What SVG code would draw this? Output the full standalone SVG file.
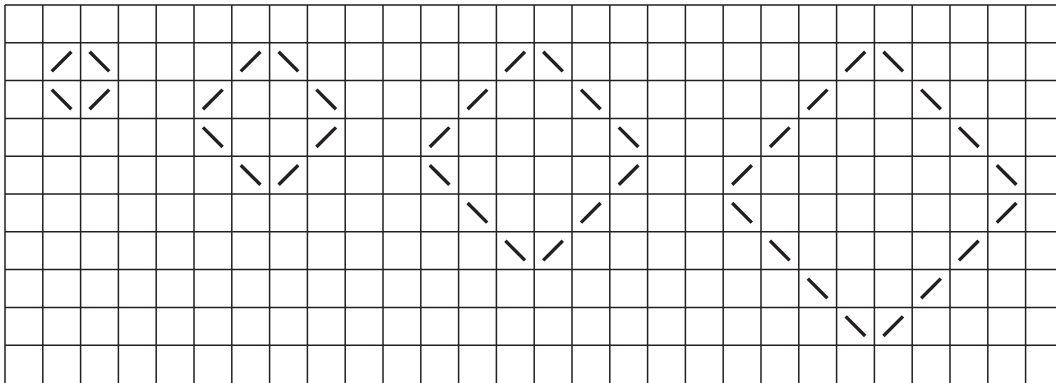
<svg xmlns="http://www.w3.org/2000/svg" xmlns:xlink="http://www.w3.org/1999/xlink" width="1056" height="383" viewBox="0 0 1056 383">
<style>
.grid{stroke:#231f20;stroke-width:1.5;fill:none}
.mark{stroke:#231f20;stroke-width:3.4;fill:none}
</style>
<defs>
<path id="f" class="mark" d="M9 28.6L28.6 9"/>
<path id="b" class="mark" d="M9 9L28.6 28.6"/>
</defs>
<rect width="1056" height="383" fill="#fff"/>
<g id="grid">
<path class="grid" d="M5 5V383M42.8 5V383M80.6 5V383M118.4 5V383M156.2 5V383M194 5V383M231.8 5V383M269.6 5V383M307.4 5V383M345.2 5V383M383 5V383M420.8 5V383M458.6 5V383M496.4 5V383M534.2 5V383M572 5V383M609.8 5V383M647.6 5V383M685.4 5V383M723.2 5V383M761 5V383M798.8 5V383M836.6 5V383M874.4 5V383M912.2 5V383M950 5V383M987.8 5V383M1025.6 5V383"/>
<path class="grid" d="M5 5H1056M5 42.8H1056M5 80.6H1056M5 118.4H1056M5 156.2H1056M5 194H1056M5 231.8H1056M5 269.6H1056M5 307.4H1056M5 345.2H1056"/>
</g>
<g id="diamond1">
<use xlink:href="#f" x="42.8" y="42.8"/><use xlink:href="#b" x="80.6" y="42.8"/>
<use xlink:href="#b" x="42.8" y="80.6"/><use xlink:href="#f" x="80.6" y="80.6"/>
</g>
<g id="diamond2">
<use xlink:href="#f" x="231.8" y="42.8"/><use xlink:href="#b" x="269.6" y="42.8"/>
<use xlink:href="#f" x="194" y="80.6"/><use xlink:href="#b" x="307.4" y="80.6"/>
<use xlink:href="#b" x="194" y="118.4"/><use xlink:href="#f" x="307.4" y="118.4"/>
<use xlink:href="#b" x="231.8" y="156.2"/><use xlink:href="#f" x="269.6" y="156.2"/>
</g>
<g id="diamond3">
<use xlink:href="#f" x="496.4" y="42.8"/><use xlink:href="#b" x="534.2" y="42.8"/>
<use xlink:href="#f" x="458.6" y="80.6"/><use xlink:href="#b" x="572" y="80.6"/>
<use xlink:href="#f" x="420.8" y="118.4"/><use xlink:href="#b" x="609.8" y="118.4"/>
<use xlink:href="#b" x="420.8" y="156.2"/><use xlink:href="#f" x="609.8" y="156.2"/>
<use xlink:href="#b" x="458.6" y="194"/><use xlink:href="#f" x="572" y="194"/>
<use xlink:href="#b" x="496.4" y="231.8"/><use xlink:href="#f" x="534.2" y="231.8"/>
</g>
<g id="diamond4">
<use xlink:href="#f" x="836.6" y="42.8"/><use xlink:href="#b" x="874.4" y="42.8"/>
<use xlink:href="#f" x="798.8" y="80.6"/><use xlink:href="#b" x="912.2" y="80.6"/>
<use xlink:href="#f" x="761" y="118.4"/><use xlink:href="#b" x="950" y="118.4"/>
<use xlink:href="#f" x="723.2" y="156.2"/><use xlink:href="#b" x="987.8" y="156.2"/>
<use xlink:href="#b" x="723.2" y="194"/><use xlink:href="#f" x="987.8" y="194"/>
<use xlink:href="#b" x="761" y="231.8"/><use xlink:href="#f" x="950" y="231.8"/>
<use xlink:href="#b" x="798.8" y="269.6"/><use xlink:href="#f" x="912.2" y="269.6"/>
<use xlink:href="#b" x="836.6" y="307.4"/><use xlink:href="#f" x="874.4" y="307.4"/>
</g>
</svg>
